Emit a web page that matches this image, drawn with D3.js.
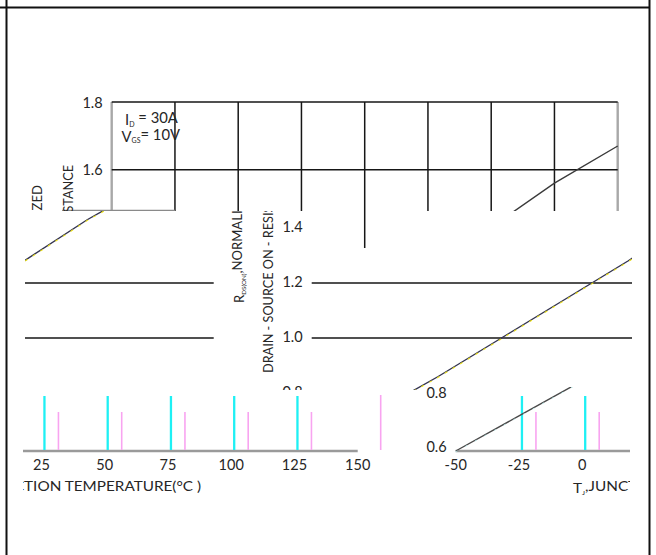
<!DOCTYPE html>
<html><head><meta charset="utf-8">
<script src="https://cdn.jsdelivr.net/npm/d3@7"></script>
<style>
body{margin:0;background:#fff;}
svg text{font-family:Lato,"Open Sans",sans-serif;fill:#262626;}
</style>
</head><body>
<svg id="c" width="656" height="555"></svg>
<script>
// ---- data ----
const tempTicks = [-50, -25, 0, 25, 50, 75, 100, 125, 150];
const rTicks = [0.6, 0.8, 1.0, 1.2, 1.4, 1.6, 1.8];
const curveT = [-50, -25, 0, 25, 50, 75, 100, 125, 150];
const curveR = [0.60, 0.73, 0.86, 1.00, 1.14, 1.28, 1.43, 1.56, 1.67];
const noteLines = [["I", "D", " = 30A"], ["V", "GS", "= 10V"]];
const yTitle1 = ["R", "DS(ON)", ",NORMALIZED"];
const yTitle2 = "DRAIN - SOURCE ON - RESISTANCE";
const xTitle = ["T", "J", ",JUNCTION TEMPERATURE(°C )"];

// ---- layout ----
const svg = d3.select("#c");
const defs = svg.append("defs");
const x = d3.scaleLinear().domain([-50, 150]).range([111.7, 617.7]);
const curveData = curveT.map((t, i) => ({t, r: curveR[i]}));

const bands = [
  {id: "top", clip: [8, 90, 648, 211], shifts: [0],
   y: d3.scaleLinear().domain([0.6, 1.8]).range([508, 102]),
   hGrid: [1.6, 1.8], vGrid: true, yLab: [1.6, 1.8], labDy: "0.4em",
   note: true, titles: true, curve: "plain", smear: true},
  {id: "topExt", clip: [362, 211, 368, 248], shifts: [0],
   y: d3.scaleLinear().domain([0.6, 1.8]).range([508, 102]),
   hGrid: [], vGrid: true, yLab: []},
  {id: "mid", clip: [25, 211, 632, 390], shifts: [200, -404],
   y: d3.scaleLinear().domain([1.0, 1.2]).range([338, 283]),
   hGrid: [1.0, 1.2], vGrid: false, yLab: [0.8, 1.0, 1.2, 1.4], labDy: "0.3em",
   titles: true, curve: "yellow"},
  {id: "bot", clip: [23, 387, 630, 500], shifts: [-260, 344],
   y: d3.scaleLinear().domain([0.6, 0.8]).range([451, 397]),
   hGrid: [], vGrid: false, yLab: [0.6, 0.8], labDy: "0.1em",
   xAxis: true, ghost: true, curve: "cyan"}
];

function subText(sel, parts, subSize) {
  sel.append("tspan").text(parts[0]);
  sel.append("tspan").attr("font-size", subSize).attr("dy", "0.25em").text(parts[1]);
  sel.append("tspan").attr("dy", "-0.25em").text(parts[2]);
}

function drawChart(g, b) {
  const y = b.y;
  if (b.vGrid) {
    g.selectAll(".vg").data(tempTicks).join("line")
      .attr("x1", d => x(d)).attr("x2", d => x(d))
      .attr("y1", y(1.8)).attr("y2", y(0.6))
      .attr("stroke", d => (d === -50 || d === 150) ? "#a8a8a8" : "#161616")
      .attr("stroke-width", d => (d === -50 || d === 150) ? 2.4 : 1.5);
  }
  g.selectAll(".hg").data(b.hGrid).join("line")
    .attr("x1", x(-50)).attr("x2", x(150))
    .attr("y1", d => y(d)).attr("y2", d => y(d))
    .attr("stroke", "#161616").attr("stroke-width", 1.5);
  g.selectAll(".yl").data(b.yLab).join("text")
    .attr("x", x(-50) - 9).attr("y", d => y(d)).attr("dy", b.labDy)
    .attr("text-anchor", "end").attr("font-size", 14.5)
    .text(d => d3.format(".1f")(d));
  if (b.smear) {
    g.append("line").attr("x1", 62).attr("x2", x(-25))
      .attr("y1", 210.5).attr("y2", 210.5)
      .attr("stroke", "#8a8a8a").attr("stroke-width", 1.6);
  }
  if (b.note) {
    noteLines.forEach((p, i) => {
      const t = g.append("text").attr("x", i === 0 ? 125 : 121.5)
        .attr("y", i === 0 ? 125 : 141.5).attr("font-size", 14.8);
      subText(t, p, 7);
    });
  }
  if (b.titles) {
    const t1 = g.append("text").attr("transform", "translate(44,303) rotate(-90)")
      .attr("font-size", 13.5).attr("textLength", 118).attr("lengthAdjust", "spacingAndGlyphs");
    subText(t1, yTitle1, 6.5);
    g.append("text").attr("transform", "translate(73,373) rotate(-90)")
      .attr("font-size", 13.5).attr("textLength", 208).attr("lengthAdjust", "spacingAndGlyphs")
      .text(yTitle2);
  }
  if (b.xAxis) {
    g.append("line").attr("x1", x(-50)).attr("x2", x(150))
      .attr("y1", y(0.6)).attr("y2", y(0.6))
      .attr("stroke", "#9a9a9a").attr("stroke-width", 2.6);
    g.selectAll(".xl").data(tempTicks).join("text")
      .attr("x", d => x(d)).attr("y", 470).attr("text-anchor", "middle")
      .attr("font-size", 14.5).text(d => d);
    const xt = g.append("text").attr("x", 229).attr("y", 493).attr("font-size", 14)
      .attr("textLength", 232).attr("lengthAdjust", "spacingAndGlyphs");
    subText(xt, xTitle, 6.5);
  }
  if (b.ghost) {
    const inner = tempTicks.filter(d => d > -50 && d < 150);
    g.selectAll(".gc").data(inner).join("line")
      .attr("x1", d => x(d) + 3).attr("x2", d => x(d) + 3)
      .attr("y1", 396).attr("y2", y(0.6) - 1)
      .attr("stroke", "#1ef0f4").attr("stroke-width", 2.3);
    g.selectAll(".gp").data(tempTicks.filter(d => d > -50)).join("line")
      .attr("x1", d => x(d) + (d === 150 ? 23 : 17)).attr("x2", d => x(d) + (d === 150 ? 23 : 17))
      .attr("y1", d => d === 150 ? 395 : 412).attr("y2", y(0.6) - 1)
      .attr("stroke", "#f8a4f0").attr("stroke-width", 1.6);
  }
  if (b.curve) {
    const line = d3.line().x(d => x(d.t)).y(d => y(d.r));
    const col = b.curve === "plain" ? "#3a3a3a" : (b.curve === "yellow" ? "#343450" : "#4a4a4a");
    g.append("path").datum(curveData).attr("d", line).attr("fill", "none")
      .attr("stroke", col).attr("stroke-width", 1.4);
    if (b.curve !== "plain") {
      g.append("path").datum(curveData).attr("d", line).attr("fill", "none")
        .attr("transform", "translate(0,0.8)")
        .attr("stroke", b.curve === "yellow" ? "#ece21a" : "#b8f0f0")
        .attr("stroke-width", b.curve === "yellow" ? 1.1 : 0.8)
        .attr("stroke-dasharray", b.curve === "yellow" ? "3,6" : "2,9");
    }
  }
}

bands.forEach((b, bi) => {
  const [x0, y0, x1, y1] = b.clip;
  defs.append("clipPath").attr("id", "clip" + bi)
    .append("rect").attr("x", x0).attr("y", y0).attr("width", x1 - x0).attr("height", y1 - y0);
  b.shifts.forEach(dx => {
    const g = svg.append("g").attr("clip-path", `url(#clip${bi})`)
      .append("g").attr("transform", `translate(${dx},0)`);
    drawChart(g, b);
  });
});

// frame
svg.append("line").attr("x1", 0).attr("x2", 650).attr("y1", 7.5).attr("y2", 7.5)
  .attr("stroke", "#111").attr("stroke-width", 2);
svg.append("line").attr("x1", 6.5).attr("x2", 6.5).attr("y1", 0).attr("y2", 555)
  .attr("stroke", "#111").attr("stroke-width", 2);
svg.append("line").attr("x1", 649.5).attr("x2", 649.5).attr("y1", 0).attr("y2", 555)
  .attr("stroke", "#111").attr("stroke-width", 2);
</script>
</body></html>
